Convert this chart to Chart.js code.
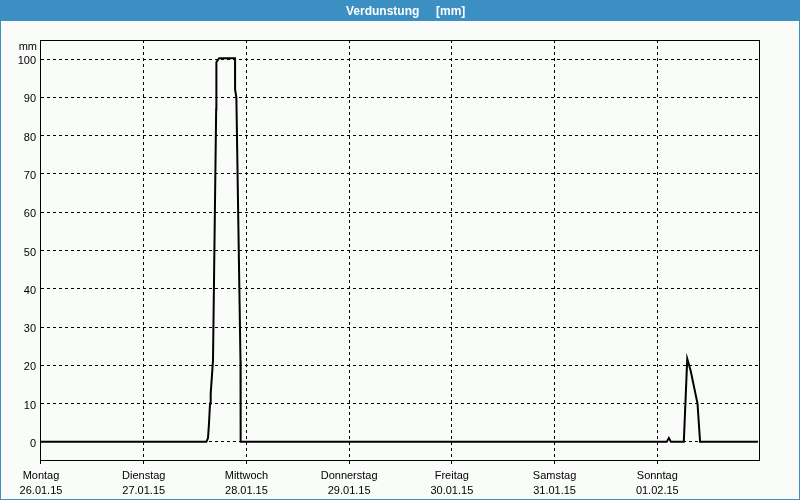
<!DOCTYPE html>
<html><head><meta charset="utf-8">
<script src="https://cdn.jsdelivr.net/npm/chart.js@4.4.1/dist/chart.umd.min.js"></script>
<style>html,body{margin:0;padding:0;background:#fafcfa;overflow:hidden}</style>
</head><body>
<canvas id="c" width="800" height="500" style="display:block;width:800px;height:500px"></canvas>
<script>
const titleText = 'Verdunstung     [mm]';
const unitLabel = 'mm';
const dayNames = ['Montag','Dienstag','Mittwoch','Donnerstag','Freitag','Samstag','Sonntag'];
const dayDates = ['26.01.15','27.01.15','28.01.15','29.01.15','30.01.15','31.01.15','01.02.15'];
const dayStartHours = [0,24,48,72,96,120,144];
const yTickValues = [0,10,20,30,40,50,60,70,80,90,100];
// hours since Monday 26.01.15 00:00
const hours = [0,38.64,39.02,39.25,39.49,39.65,40.19,40.93,40.98,41.45,41.64,45.33,45.35,45.65,46.61,46.65,146.2,146.7,147.2,150.2,151.0,151.8,153.4,154.0,167.5];
const evaporation = [0,0,1,4.7,10,12.6,21.3,86.9,99.2,100,100.2,100.2,92,90,21.3,0,0,1,0,0,21.7,18.6,10,0,0];

const BLUE = '#3c8fc2';
const BG = '#fafcfa';
const FONT = 'Liberation Sans';

const framePlugin = {
  id: 'frame',
  beforeDraw(chart) {
    const ctx = chart.ctx;
    ctx.save();
    ctx.fillStyle = BG;
    ctx.fillRect(0, 0, 800, 500);
    ctx.fillStyle = BLUE;
    ctx.fillRect(0, 0, 800, 21);
    ctx.fillRect(0, 0, 1, 500);
    ctx.fillRect(799, 0, 1, 500);
    ctx.fillRect(0, 499, 800, 1);
    ctx.fillStyle = '#ffffff';
    ctx.font = 'bold 12px "' + FONT + '"';
    ctx.textAlign = 'left';
    ctx.textBaseline = 'alphabetic';
    ctx.fillText(titleText, 346, 15);
    ctx.restore();
  },
  afterDraw(chart) {
    const ctx = chart.ctx;
    const a = chart.chartArea;
    ctx.save();
    ctx.strokeStyle = '#000';
    ctx.lineWidth = 1;
    ctx.setLineDash([]);
    ctx.strokeRect(a.left - 0.5, a.top + 0.5, a.right - a.left, a.bottom - a.top - 1);
    ctx.beginPath();
    ctx.moveTo(a.left - 0.5, a.bottom);
    ctx.lineTo(a.left - 0.5, a.bottom + 3);
    ctx.stroke();
    ctx.fillStyle = '#000';
    ctx.font = '11px "' + FONT + '"';
    ctx.textAlign = 'right';
    ctx.textBaseline = 'alphabetic';
    ctx.fillText(unitLabel, a.left - 4, 50);
    ctx.restore();
  }
};

new Chart(document.getElementById('c'), {
  type: 'line',
  data: {
    datasets: [{
      data: hours.map((h, i) => ({x: h, y: evaporation[i]})),
      borderColor: '#000',
      borderWidth: 2,
      pointRadius: 0,
      tension: 0,
      fill: false
    }]
  },
  options: {
    responsive: false,
    animation: false,
    devicePixelRatio: 1,
    layout: {padding: {top: 40, left: 0, right: 40, bottom: 0}},
    plugins: {legend: {display: false}, title: {display: false}, tooltip: {enabled: false}},
    scales: {
      x: {
        type: 'linear', min: 0, max: 168,
        afterBuildTicks: s => { s.ticks = dayStartHours.map(v => ({value: v})); },
        afterFit: s => { s.height = 39; },
        ticks: {
          autoSkip: false, maxRotation: 0, minRotation: 0, padding: 2, color: '#000',
          font: {family: FONT, size: 11, lineHeight: 15/11},
          callback: v => { const i = dayStartHours.indexOf(v); return i < 0 ? '' : [dayNames[i], dayDates[i]]; }
        },
        grid: {
          color: c => (c.tick && c.tick.value === 0) ? 'rgba(0,0,0,0)' : '#000',
          lineWidth: 1, drawTicks: true, tickLength: 5, tickBorderDash: [3, 3]
        },
        border: {display: false, dash: [3, 3]}
      },
      y: {
        type: 'linear', min: -5, max: 105,
        afterBuildTicks: s => { s.ticks = yTickValues.map(v => ({value: v})); },
        afterFit: s => { s.width = 41; },
        ticks: {padding: 5, labelOffset: 2, color: '#000', font: {family: FONT, size: 11}},
        grid: {color: '#000', lineWidth: 1, drawTicks: false},
        border: {display: false, dash: [3, 3]}
      }
    }
  },
  plugins: [framePlugin]
});
</script>
</body></html>
